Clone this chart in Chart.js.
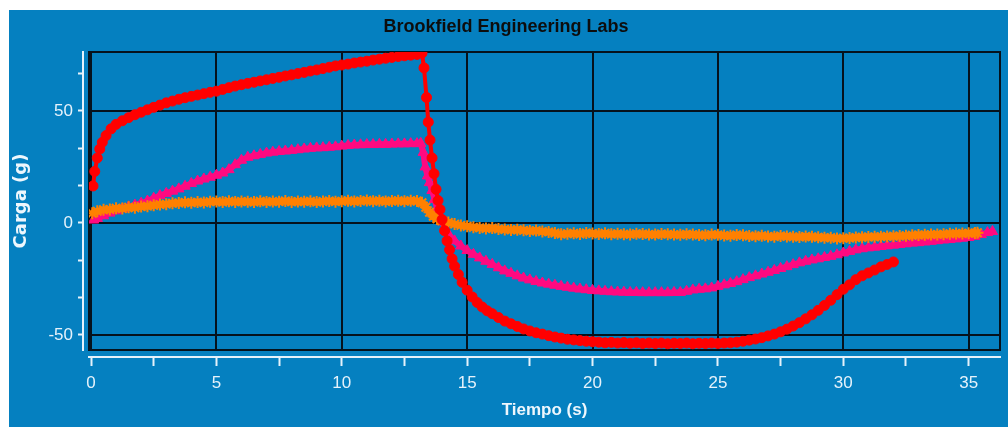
<!DOCTYPE html>
<html><head><meta charset="utf-8">
<script src="https://cdn.jsdelivr.net/npm/chart.js@4.4.1/dist/chart.umd.min.js"></script>
<style>
html,body{margin:0;padding:0;background:#fff;width:1008px;height:427px;overflow:hidden}
#wrap{position:absolute;left:9px;top:10px;width:999px;height:417px;background:#0580c0}
canvas{display:block}
</style></head><body>
<div id="wrap"><canvas id="c" width="999" height="417"></canvas></div>
<script>
// ---- data ----
const redT = [0.08,0.15,0.25,0.35,0.45,0.6,0.8,1.0,1.25,1.5,
  1.75,2.0,2.25,2.5,2.75,3.0,3.25,3.5,3.75,4.0,
  4.25,4.5,4.75,5.0,5.25,5.5,5.75,6.0,6.25,6.5,
  6.75,7.0,7.25,7.5,7.75,8.0,8.25,8.5,8.75,9.0,
  9.25,9.5,9.75,10.0,10.25,10.5,10.75,11.0,11.25,11.5,
  11.75,12.0,12.25,12.5,12.75,13.0,13.2,13.28,13.38,13.45,
  13.52,13.6,13.68,13.76,13.84,13.92,14.0,14.1,14.2,14.3,
  14.4,14.5,14.65,14.8,15.0,15.2,15.4,15.6,15.8,16.0,
  16.25,16.5,16.75,17.0,17.25,17.5,17.75,18.0,18.25,18.5,
  18.75,19.0,19.25,19.5,19.75,20.0,20.25,20.5,20.75,21.0,
  21.25,21.5,21.75,22.0,22.25,22.5,22.75,23.0,23.25,23.5,
  23.75,24.0,24.25,24.5,24.75,25.0,25.25,25.5,25.75,26.0,
  26.25,26.5,26.75,27.0,27.25,27.5,27.75,28.0,28.25,28.5,
  28.75,29.0,29.25,29.5,29.75,30.0,30.25,30.5,30.75,31.0,
  31.25,31.5,31.75,32.0];
const redV = [16.5,23,29,33,36,39,42,44,45.6,47,
  48.3,49.4,50.5,51.6,52.6,53.6,54.4,55.2,55.9,56.5,
  57.1,57.7,58.3,58.8,59.6,60.4,61.1,61.7,62.3,62.8,
  63.4,63.9,64.5,65.0,65.6,66.1,66.7,67.2,67.8,68.3,
  68.9,69.5,70.1,70.5,70.9,71.4,71.8,72.2,72.7,73.1,
  73.5,73.9,74.3,74.6,74.9,75.2,75.8,69.2,56,45,
  37,29,22,15,10,6,1.5,-3.5,-8,-12,
  -16,-19.3,-23,-26.5,-30,-33,-35.5,-37.5,-39.2,-40.5,
  -42.2,-43.8,-45,-46.2,-47.3,-48.2,-49,-49.6,-50.3,-50.9,
  -51.4,-51.9,-52.2,-52.5,-52.8,-53,-53.2,-53.5,-53.3,-53.6,
  -53.4,-53.7,-53.5,-53.8,-53.6,-53.8,-53.6,-53.9,-53.7,-53.8,
  -53.6,-53.9,-53.7,-53.8,-53.6,-53.8,-53.6,-53.5,-53.2,-52.8,
  -52.3,-51.8,-51.2,-50.4,-49.6,-48.6,-47.4,-46,-44.5,-42.8,
  -41,-39,-36.8,-34.5,-32,-29.6,-27.6,-25.3,-23.6,-22.3,
  -21,-19.6,-18.5,-17.4];

const pinkT = [0.1,0.25,0.5,0.75,1.0,1.25,1.5,1.75,2.0,2.25,
  2.5,2.75,3.0,3.25,3.5,3.75,4.0,4.25,4.5,4.75,
  5.0,5.25,5.5,5.75,6.0,6.25,6.5,6.75,7.0,7.25,
  7.5,7.75,8.0,8.25,8.5,8.75,9.0,9.25,9.5,9.75,
  10.0,10.25,10.5,10.75,11.0,11.25,11.5,11.75,12.0,12.25,
  12.5,12.75,13.0,13.15,13.25,13.33,13.42,13.5,13.6,13.7,
  13.8,13.9,14.0,14.15,14.3,14.5,14.75,15.0,15.25,15.5,
  15.75,16.0,16.25,16.5,16.75,17.0,17.25,17.5,17.75,18.0,
  18.25,18.5,18.75,19.0,19.25,19.5,19.75,20.0,20.25,20.5,
  20.75,21.0,21.25,21.5,21.75,22.0,22.25,22.5,22.75,23.0,
  23.25,23.5,23.75,24.0,24.25,24.5,24.75,25.0,25.25,25.5,
  25.75,26.0,26.25,26.5,26.75,27.0,27.25,27.5,27.75,28.0,
  28.25,28.5,28.75,29.0,29.25,29.5,29.75,30.0,30.25,30.5,
  30.75,31.0,31.25,31.5,31.75,32.0,32.25,32.5,32.75,33.0,
  33.25,33.5,33.75,34.0,34.25,34.5,34.75,35.0,35.25,35.5,
  35.75,35.95];
const pinkV = [1.3,2.0,3.2,4.4,5.4,6.3,7.2,8.0,8.8,9.8,
  11.0,12.2,13.2,14.2,15.2,16.4,17.6,18.7,19.6,20.4,
  21.3,22.3,23.8,26.0,28.0,29.3,30.0,30.6,31.2,31.6,
  31.9,32.1,32.4,32.7,33.0,33.3,33.5,33.6,33.8,34.0,
  34.3,34.6,34.8,34.9,35.0,35.0,35.1,35.1,35.2,35.3,
  35.3,35.4,35.4,35.5,31.5,25,21,18,14.5,10.5,
  6.5,3.5,0.5,-3.2,-5.8,-8,-10.3,-12.3,-14,-15.6,
  -17.1,-18.5,-20,-21.4,-22.5,-23.6,-24.6,-25.4,-26.1,-26.8,
  -27.3,-27.8,-28.3,-28.7,-29.1,-29.5,-29.8,-30.1,-30.3,-30.5,
  -30.7,-30.8,-30.9,-31.0,-31.0,-31.1,-31.1,-31.1,-31.1,-31.1,
  -31.0,-31.0,-30.5,-29.9,-29.6,-29.4,-29.0,-28.3,-27.6,-27.0,
  -26.2,-25.3,-24.4,-23.6,-22.8,-22.0,-21.2,-20.3,-19.5,-18.6,
  -17.8,-17.1,-16.5,-16.0,-15.4,-14.9,-14.2,-13.4,-12.7,-12.0,
  -11.5,-11.1,-10.8,-10.5,-10.2,-9.9,-9.6,-9.3,-9.0,-8.8,
  -8.5,-8.2,-7.9,-7.6,-7.4,-7.1,-6.8,-6.5,-6.0,-5.2,
  -4.3,-3.8];

const orangeT = [0.05,0.25,0.5,0.75,1.0,1.25,1.5,1.75,2.0,2.25,
  2.5,2.75,3.0,3.25,3.5,3.75,4.0,4.25,4.5,4.75,
  5.0,5.25,5.5,5.75,6.0,6.25,6.5,6.75,7.0,7.25,
  7.5,7.75,8.0,8.25,8.5,8.75,9.0,9.25,9.5,9.75,
  10.0,10.25,10.5,10.75,11.0,11.25,11.5,11.75,12.0,12.25,
  12.5,12.75,13.0,13.2,13.35,13.5,13.65,13.8,14.0,14.25,
  14.5,14.75,15.0,15.25,15.5,15.75,16.0,16.25,16.5,16.75,
  17.0,17.25,17.5,17.75,18.0,18.25,18.5,18.75,19.0,19.25,
  19.5,19.75,20.0,20.25,20.5,20.75,21.0,21.25,21.5,21.75,
  22.0,22.25,22.5,22.75,23.0,23.25,23.5,23.75,24.0,24.25,
  24.5,24.75,25.0,25.25,25.5,25.75,26.0,26.25,26.5,26.75,
  27.0,27.25,27.5,27.75,28.0,28.25,28.5,28.75,29.0,29.25,
  29.5,29.75,30.0,30.25,30.5,30.75,31.0,31.25,31.5,31.75,
  32.0,32.25,32.5,32.75,33.0,33.25,33.5,33.75,34.0,34.25,
  34.5,34.75,35.0,35.25,35.35];
const orangeV = [4.3,5.2,5.9,6.0,6.6,6.4,7.0,6.8,7.3,7.5,
  7.9,8.2,8.4,8.8,8.9,9.2,9.0,9.3,9.1,9.5,
  9.6,9.3,9.7,9.4,9.6,9.5,9.3,9.7,9.4,9.6,
  9.5,9.8,9.4,9.6,9.5,9.7,9.3,9.6,9.8,9.5,
  9.7,9.9,9.6,9.8,10.0,9.7,9.9,9.6,9.8,9.9,
  9.7,9.9,9.8,9.0,7.0,4.8,3.0,1.8,1.0,0.2,
  -0.5,-1.1,-1.5,-1.9,-2.2,-2.5,-2.3,-2.7,-2.9,-3.1,
  -3.0,-3.3,-3.6,-3.4,-3.8,-4.0,-4.5,-5.0,-4.8,-4.6,
  -4.9,-4.5,-4.7,-4.9,-4.6,-5.0,-4.8,-5.0,-5.1,-4.8,
  -4.9,-5.1,-5.2,-4.9,-5.0,-5.2,-5.3,-5.0,-5.2,-5.4,
  -5.5,-5.2,-5.3,-5.6,-5.7,-5.4,-5.5,-5.8,-5.9,-5.7,
  -6.0,-6.1,-5.8,-6.0,-6.2,-6.3,-6.0,-6.2,-6.4,-6.6,
  -6.6,-6.9,-6.8,-6.7,-6.5,-6.4,-6.3,-6.2,-6.1,-6.0,
  -5.9,-5.8,-5.7,-5.5,-5.4,-5.3,-5.2,-5.1,-5.0,-4.8,
  -4.7,-4.7,-4.6,-4.5,-4.4];

// axes
const xTicks = [0,2.5,5,7.5,10,12.5,15,17.5,20,22.5,25,27.5,30,32.5,35];
const xGrid = [0,5,10,15,20,25,30,35];
const yTicks = [-50,-33.33,-16.67,0,16.67,33.33,50,66.67];
const yGrid = [-50,0,50];
const X_MIN = -0.08, X_MAX = 36.25, Y_MIN = -56.7, Y_MAX = 76.3;

const SANS = '"Liberation Sans", Arial, sans-serif';
const GRID = '#06121c';
const AXW = '#e6f2fb';
const pts = (t, v) => t.map((x, i) => ({x: x, y: v[i]}));

const frame = {
  id: 'frame',
  beforeDatasetsDraw(chart) {
    const {ctx, chartArea: a} = chart;
    ctx.save();
    ctx.strokeStyle = GRID; ctx.lineWidth = 2;
    ctx.strokeRect(a.left, a.top, a.right - a.left, a.bottom - a.top);
    ctx.restore();
  }
};

new Chart(document.getElementById('c'), {
  type: 'line',
  data: {
    datasets: [
      {data: pts(redT, redV), borderColor: '#ff0000', backgroundColor: '#ff0000', borderWidth: 4,
       pointStyle: 'circle', pointRadius: 5, pointBorderWidth: 1, xAxisID: 'x', yAxisID: 'y'},
      {data: pts(orangeT, orangeV), borderColor: '#ff8000', backgroundColor: '#ff8000', borderWidth: 7,
       pointStyle: 'star', pointRadius: 6, pointBorderWidth: 2, xAxisID: 'x', yAxisID: 'y'},
      {data: pts(pinkT, pinkV), borderColor: '#ff0a80', backgroundColor: '#ff0a80', borderWidth: 6,
       pointStyle: 'triangle', pointRadius: 6, pointBorderWidth: 1, xAxisID: 'x', yAxisID: 'y'}
    ]
  },
  options: {
    responsive: false, animation: false, devicePixelRatio: 1,
    layout: {padding: {left: 0, right: 5, top: 0, bottom: 0}},
    plugins: {
      legend: {display: false}, tooltip: {enabled: false},
      title: {display: true, text: 'Brookfield Engineering Labs', color: '#0d0d0d',
        font: {family: SANS, size: 18, weight: 'bold'}, padding: {top: 6, bottom: 14.4}}
    },
    scales: {
      x: {type: 'linear', position: 'bottom', weight: 0, min: X_MIN, max: X_MAX,
        afterBuildTicks: s => { s.ticks = xGrid.map(v => ({value: v})); },
        afterFit: s => { s.height = 7; },
        ticks: {display: false}, border: {display: false},
        grid: {color: GRID, lineWidth: 2, drawTicks: false}},
      xW: {type: 'linear', position: 'bottom', weight: 1, min: X_MIN, max: X_MAX,
        afterBuildTicks: s => { s.ticks = xTicks.map(v => ({value: v})); },
        afterFit: s => { s.height = 70; },
        ticks: {color: AXW, font: {family: SANS, size: 17}, padding: 7, maxRotation: 0, autoSkip: false,
          callback: v => (v % 5 === 0 ? String(v) : '')},
        border: {display: true, color: AXW, width: 2},
        grid: {drawOnChartArea: false, drawTicks: true, tickLength: 9, tickColor: AXW, tickWidth: 2},
        title: {display: true, text: 'Tiempo (s)', color: '#eef7fd',
          font: {family: SANS, size: 17, weight: 'bold'}, padding: {top: 0, bottom: 6}}},
      y: {type: 'linear', position: 'left', weight: 0, min: Y_MIN, max: Y_MAX,
        afterBuildTicks: s => { s.ticks = yGrid.map(v => ({value: v})); },
        afterFit: s => { s.width = 6; },
        ticks: {display: false}, border: {display: false},
        grid: {color: GRID, lineWidth: 2, drawTicks: false}},
      yW: {type: 'linear', position: 'left', weight: 1, min: Y_MIN, max: Y_MAX,
        afterBuildTicks: s => { s.ticks = yTicks.map(v => ({value: v})); },
        afterFit: s => { s.width = 74; },
        ticks: {color: AXW, font: {family: SANS, size: 17}, padding: 5, autoSkip: false,
          callback: v => (Math.abs(v % 50) < 0.01 ? String(v) : '')},
        border: {display: true, color: AXW, width: 2},
        grid: {drawOnChartArea: false, drawTicks: true, tickLength: 5, tickColor: AXW, tickWidth: 2},
        title: {display: true, text: 'Carga (g)', color: '#eef7fd',
          font: {family: '"DejaVu Sans", sans-serif', size: 18, weight: 'bold'}, padding: {top: 2, bottom: 0}}}
    }
  },
  plugins: [frame]
});
</script>
</body></html>
